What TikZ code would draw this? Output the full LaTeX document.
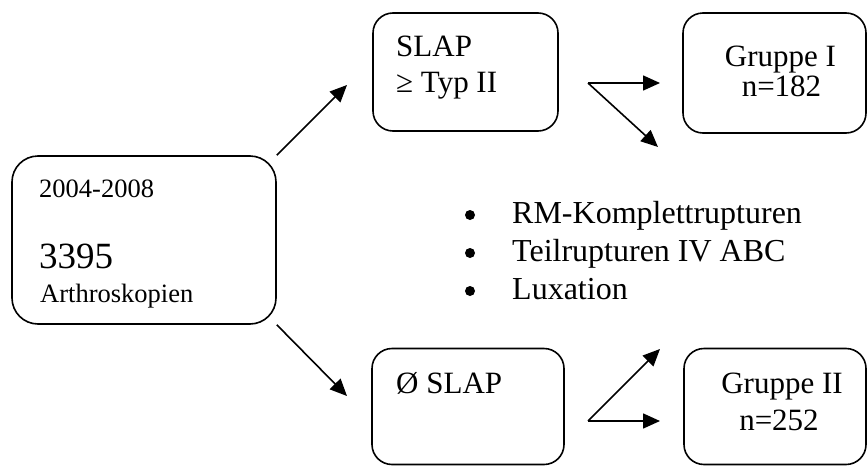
\documentclass[tikz,border=0pt]{standalone}
\usepackage{fontspec}
\setmainfont{Liberation Serif}
\usetikzlibrary{arrows.meta}
\tikzset{
  box/.style={draw, line width=1.6pt, rounded corners=#1, inner sep=0pt},
  box/.default=20pt,
  txt/.style={inner sep=0pt, anchor=base west},
  ctxt/.style={inner sep=0pt, anchor=base},
  arr/.style={line width=1.6pt, -{Triangle[length=17pt,width=15pt]}},
  big/.style={font=\fontsize{31}{31}\selectfont},
  mid/.style={font=\fontsize{26.5}{26.5}\selectfont},
  huge/.style={font=\fontsize{37}{37}\selectfont},
  lst/.style={font=\fontsize{32}{32}\selectfont},
  dot/.style={circle, fill=black, inner sep=0pt, minimum size=10pt}
}
\begin{document}
\begin{tikzpicture}[x=1pt,y=-1pt]
\useasboundingbox (0,0) rectangle (868,466);
% boxes
\node[box=26pt, minimum width=264pt, minimum height=168pt] (L) at (144,240) {};
\node[box, minimum width=185pt, minimum height=118pt] (S1) at (465.5,72) {};
\node[box, minimum width=183pt, minimum height=120pt] (G1) at (774.5,73) {};
\node[box, minimum width=192pt, minimum height=116pt] (S2) at (468,406.5) {};
\node[box, minimum width=182pt, minimum height=116pt] (G2) at (775,406.5) {};
% texts
\node[txt, mid] (t1) at (39,197) {2004-2008};
\node[txt, huge] (t2) at (39,268) {3395};
\node[txt, mid] (t3) at (40,302) {Arthroskopien};
\node[txt, big] (s1a) at (396,56) {SLAP};
\node[txt, big] (s1b) at (396,92) {≥ Typ II};
\node[ctxt, big] (g1a) at (780.5,66) {Gruppe I};
\node[ctxt, big] (g1b) at (781.5,96) {n=182};
\node[txt, big] (s2a) at (396,393) {Ø SLAP};
\node[ctxt, big] (g2a) at (782,393) {Gruppe II};
\node[ctxt, big] (g2b) at (779,430) {n=252};
% bullet list
\node[dot] (b1) at (470,215) {};
\node[dot] (b2) at (470,253) {};
\node[dot] (b3) at (470,291) {};
\node[txt, lst] (l1) at (512,223) {RM-Komplettrupturen};
\node[txt, lst] (l2) at (512,261) {Teilrupturen IV ABC};
\node[txt, lst] (l3) at (512,299) {Luxation};
% arrow ends
\coordinate (a1) at (347,85);
\coordinate (a2) at (347,396);
\coordinate (v1) at (588,83);
\coordinate (h1) at (660,83);
\coordinate (d1) at (658,147);
\coordinate (v2) at (588,421);
\coordinate (h2) at (660,421);
\coordinate (d2) at (660,349);
% connectors
\draw[arr] (L.north east) -- (a1);
\draw[arr] (L.south east) -- (a2);
\draw[arr] (v1) -- (h1);
\draw[arr] (v1) -- (d1);
\draw[arr] (v2) -- (h2);
\draw[arr] (v2) -- (d2);
\end{tikzpicture}
\end{document}
